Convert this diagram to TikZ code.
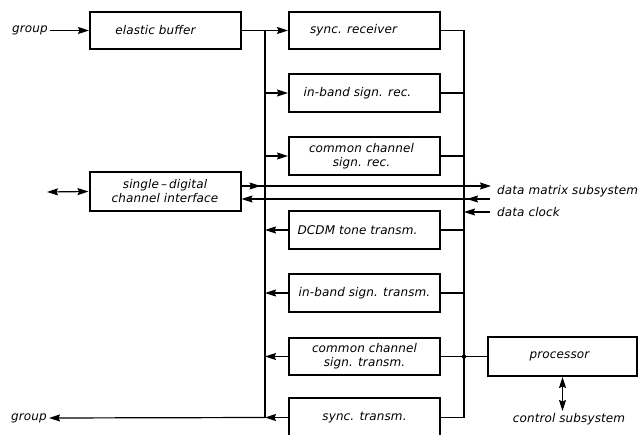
\documentclass[tikz,border=0pt]{standalone}
\usepackage{fontspec}
\setmainfont{DejaVu Sans}[LetterSpace=1]
\usetikzlibrary{arrows.meta,decorations.markings}
\begin{document}
\begin{tikzpicture}[x=1pt,y=-1pt,
  font=\fontsize{12}{14}\selectfont\itshape,
  blk/.style={draw, line width=2pt, minimum width=151pt, minimum height=37.5pt, align=center, inner sep=2pt},
  conn/.style={line width=1.2pt},
  arr/.style={-{Stealth[length=11pt,width=7pt,inset=1.5pt]}},
  darr/.style={{Stealth[length=11pt,width=7pt,inset=1.5pt]}-{Stealth[length=11pt,width=7pt,inset=1.5pt]}},
  lbl/.style={inner sep=2pt},
  dot/.style={circle, fill, inner sep=0pt, minimum size=4.5pt},
  midarr/.style={postaction={decorate}, decoration={markings, mark=at position #1 with {\arrow{Stealth[length=11pt,width=7pt,inset=1.5pt]}}}}
]
\useasboundingbox (0,0) rectangle (644,435);
\begin{scope}
\clip (0,0) rectangle (644,435);
% boxes
\node[blk] (eb) at (165.5,30.5) {elastic buffer\hspace*{20pt}};
\node[blk, minimum height=39pt] (if) at (165,191.5) {single\,--\,digital\\channel interface};
\node[blk] (sr)  at (364.5,30.5) {sync. receiver\hspace*{22pt}};
\node[blk] (ibr) at (364.5,93) {in-band sign. rec.\hspace*{14pt}};
\node[blk] (ccr) at (364.5,156) {common channel\hspace*{6pt}\\sign. rec.\hspace*{6pt}};
\node[blk] (dt)  at (364.5,230) {DCDM tone transm.\hspace*{14pt}};
\node[blk] (ibt) at (364.5,293) {in-band sign. transm.};
\node[blk] (cct) at (364.5,356.5) {common channel\\sign. transm.};
\node[blk, minimum height=39pt] (st)  at (364.5,417.5) {sync. transm.};
\node[blk, minimum width=149pt, minimum height=39pt] (proc) at (562.5,356.5) {processor\hspace*{6pt}};
\end{scope}
% labels
\node[lbl, anchor=east] (gin) at (50,30.5) {group};
\node[lbl, anchor=east] (gout) at (49,418) {group};
\node[lbl, anchor=west] (dm) at (495,191) {data matrix subsystem};
\node[lbl, anchor=west] (dc) at (495,212) {data clock};
\node[lbl] (cs) at (569,419) {control subsystem};
% coordinates
\coordinate (lbtop) at (265,30.5);
\coordinate (lbbot) at (265,417.5);
\coordinate (rbtop) at (464,30.5);
\coordinate (rbbot) at (464,417.5);
\coordinate (dmE) at (491,186);
\coordinate (dlE) at (490,199);
\coordinate (dcE) at (490,212);
\coordinate (ifL) at (47,192);
% input side
\draw[conn, arr] (gin.east) -- (eb.west);
\draw[conn, arr] (eb.east) -- (sr.west);
\draw[conn] (lbtop) -- (lbbot);
\draw[conn, arr] (lbtop |- ibr.west) -- (ibr.west);
\draw[conn, arr] (lbtop |- ccr.west) -- (ccr.west);
% transmit side
\draw[conn, arr] (dt.west) -- (lbtop |- dt.west);
\draw[conn, arr] (ibt.west) -- (lbtop |- ibt.west);
\draw[conn, arr] (cct.west) -- (lbtop |- cct.west);
\draw[conn, arr] (st.west) -- (lbbot);
\draw[conn, arr] (lbbot) -- (gout.east);
% right bus
\draw[conn] (sr.east) -- (rbtop) -- (rbbot) -- (st.east);
\draw[conn] (ibr.east) -- (rbtop |- ibr.east);
\draw[conn] (ccr.east) -- (rbtop |- ccr.east);
\draw[conn] (dt.east) -- (rbtop |- dt.east);
\draw[conn] (ibt.east) -- (rbtop |- ibt.east);
\draw[conn] (cct.east) -- (rbtop |- cct.east);
\node[dot] (j) at (rbtop |- proc.west) {};
\draw[conn] (j) -- (proc.west);
\draw[conn, darr] (proc.south) -- (proc.south |- cs.north);
% interface lines
\draw[conn, darr] (ifL) -- (if.west);
\draw[conn, arr, midarr=19pt] (if.east |- dmE) -- (dmE);
\draw[conn, arr, midarr=23pt] (dlE) -- (if.east |- dlE);
\draw[conn, arr] (dcE) -- (rbtop |- dcE);
\end{tikzpicture}
\end{document}
